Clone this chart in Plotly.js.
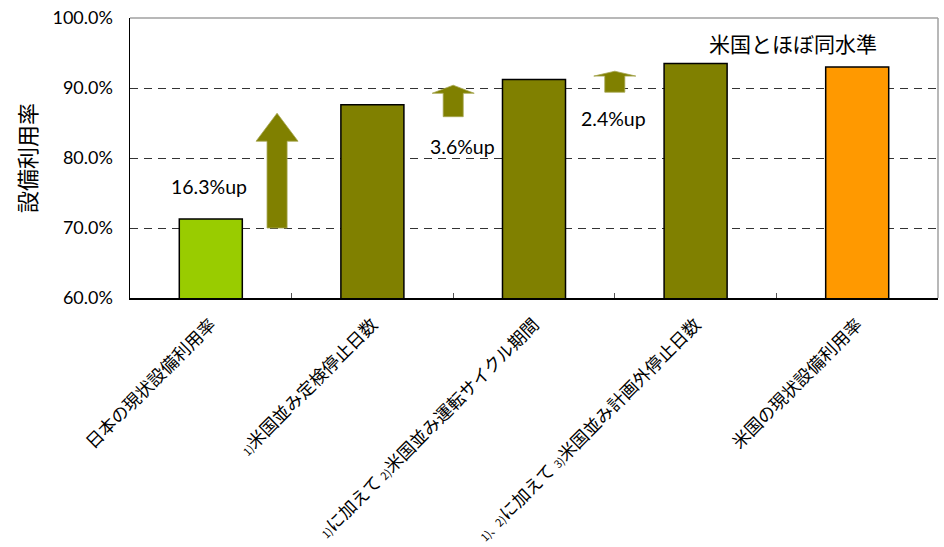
<!DOCTYPE html>
<html>
<head>
<meta charset="utf-8">
<script src="https://cdn.plot.ly/plotly-3.0.1.min.js"></script>
<style>html,body{margin:0;padding:0;background:#fff;}#chart{width:944px;height:547px;}</style>
</head>
<body>
<div id="chart"></div>
<script>
// ---- data ----
const categories = [
  '日本の現状設備利用率',
  '<span style="font-size:11px">1)</span>米国並み定検停止日数',
  '<span style="font-size:11px">1)</span>に加えて <span style="font-size:11px">2)</span>米国並み運転サイクル期間',
  '<span style="font-size:11px">1)、2)</span>に加えて <span style="font-size:11px">3)</span>米国並み計画外停止日数',
  '米国の現状設備利用率'
];
const values = [71.3, 87.6, 91.2, 93.5, 93.0];
const barColors = ['#99CC00', '#808000', '#808000', '#808000', '#FF9900'];

const arrowX = [0.41, 1.5, 2.5];
const arrowFrom = [70.0, 85.9, 89.4];
const arrowTo = [86.4, 90.4, 92.4];
const arrowHead = [4.0, 1.15, 0.7];

const upLabels = ['16.3%up', '3.6%up', '2.4%up'];
const upLabelX = [-0.01, 1.56, 2.49];
const upLabelY = [75.9, 81.6, 85.7];

const noteText = '米国とほぼ同水準';
const noteX = 3.6, noteY = 96.4;

const yTicks = [60, 70, 80, 90, 100];

// ---- chart ----
const trace = {
  type: 'bar',
  x: categories,
  y: values,
  marker: {color: barColors, line: {color: '#000', width: 1.5}},
  hoverinfo: 'none'
};

const shapes = [];
const sw = 0.062, hw = 0.13;
for (let i = 0; i < arrowX.length; i++) {
  const cx = arrowX[i], b = arrowFrom[i], t = arrowTo[i], h = t - arrowHead[i];
  const p = `M ${cx - sw},${b} L ${cx - sw},${h} L ${cx - hw},${h} L ${cx},${t} L ${cx + hw},${h} L ${cx + sw},${h} L ${cx + sw},${b} Z`;
  shapes.push({type: 'path', xref: 'x', yref: 'y', path: p, fillcolor: '#808000',
    line: {color: '#a6a650', width: 0.8}, layer: 'above'});
}
// top & right frame (gray)
shapes.push({type: 'line', xref: 'paper', yref: 'paper', x0: 0, x1: 1, y0: 1, y1: 1, line: {color: '#a0a0a0', width: 1.5}, layer: 'above'});
shapes.push({type: 'line', xref: 'paper', yref: 'paper', x0: 1, x1: 1, y0: 0, y1: 1, line: {color: '#a0a0a0', width: 1.5}, layer: 'above'});

const annotations = upLabels.map((t, i) => ({
  x: upLabelX[i], y: upLabelY[i], xref: 'x', yref: 'y', text: t, showarrow: false,
  font: {family: 'Lato, "Open Sans", sans-serif', size: 19.5, color: '#000'}
}));
annotations.push({x: noteX, y: noteY, xref: 'x', yref: 'y', text: noteText, showarrow: false,
  font: {family: '"Noto Sans CJK JP", sans-serif', size: 21, color: '#000'}});

const layout = {
  width: 944, height: 547,
  margin: {l: 130, r: 6, t: 18, b: 249},
  paper_bgcolor: '#fff', plot_bgcolor: '#fff',
  showlegend: false,
  bargap: 0.61,
  font: {family: '"Noto Sans CJK JP", sans-serif', color: '#000'},
  xaxis: {
    type: 'category',
    tickangle: -45,
    tickson: 'boundaries',
    ticks: 'inside', ticklen: 5, tickcolor: '#555', tickwidth: 1,
    showline: true, linecolor: '#000', linewidth: 1.5,
    showgrid: false,
    ticklabelstandoff: 8,
    tickfont: {family: '"Noto Sans CJK JP", sans-serif', size: 17.5, color: '#000'},
    range: [-0.5, 4.5]
  },
  yaxis: {
    range: [60, 100],
    tickvals: yTicks,
    ticktext: yTicks.map(v => v.toFixed(1) + '%'),
    showline: true, linecolor: '#000', linewidth: 1.5,
    showgrid: true, gridcolor: '#333', gridwidth: 1, griddash: '8px,6px',
    zeroline: false,
    ticks: '', ticklabelstandoff: 12,
    tickfont: {family: 'Lato, "Open Sans", sans-serif', size: 18, color: '#000'},
    title: {text: '設備利用率', font: {family: '"Noto Sans CJK JP", sans-serif', size: 22, color: '#000'}, standoff: 10}
  },
  shapes: shapes,
  annotations: annotations
};

Plotly.newPlot('chart', [trace], layout, {displayModeBar: false, staticPlot: true});
</script>
</body>
</html>
